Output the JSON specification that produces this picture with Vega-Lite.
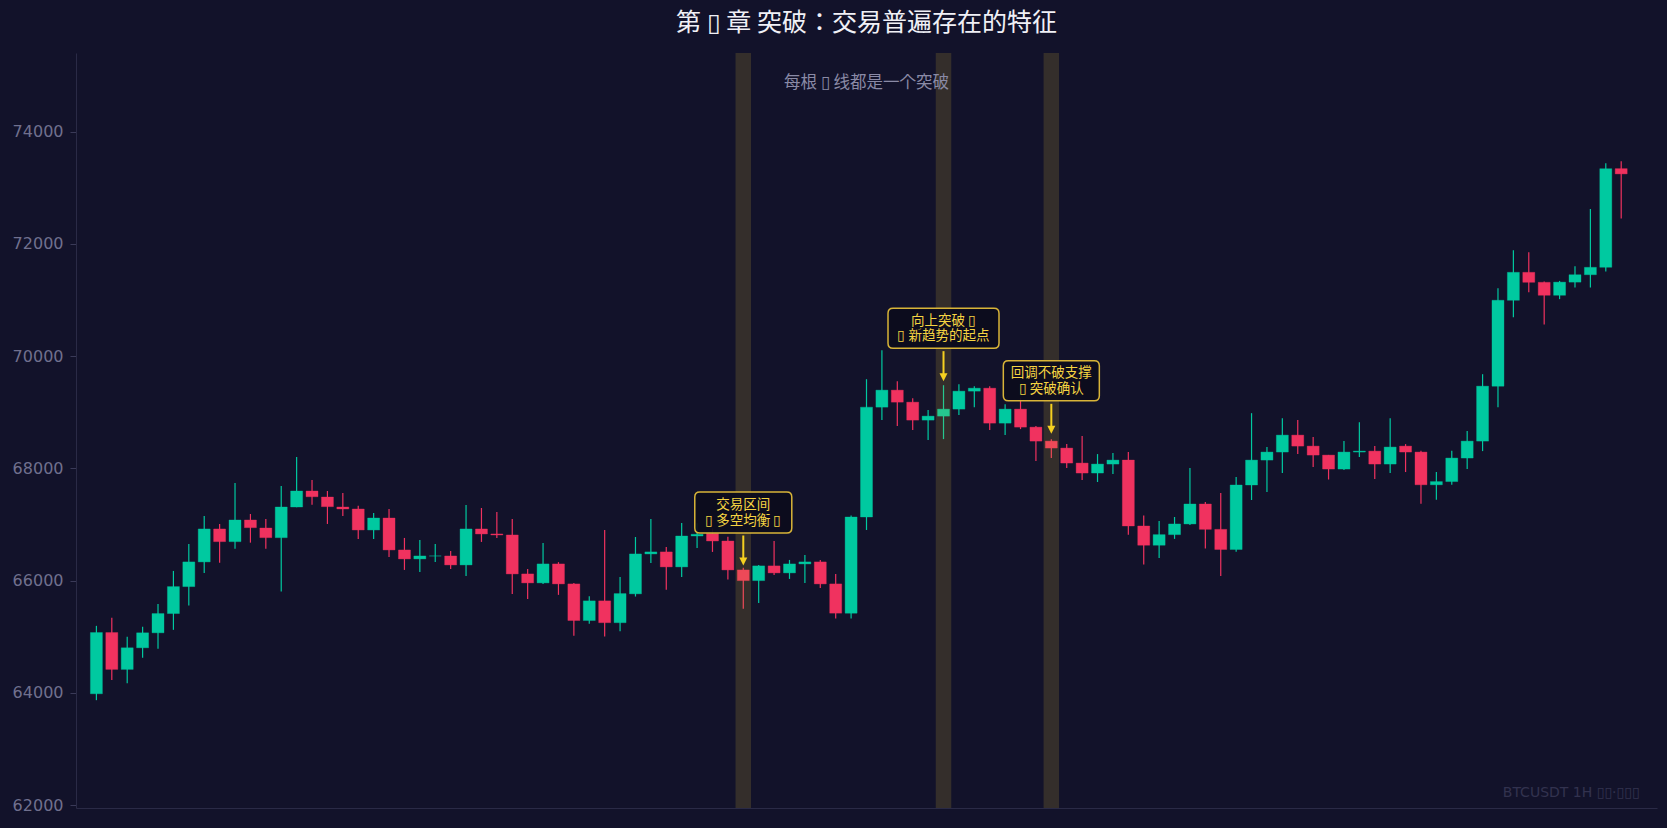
{
  "$schema": "https://vega.github.io/schema/vega-lite/v6.json",
  "width": 1581,
  "height": 755,
  "autosize": {"type": "none"},
  "padding": {"left": 76, "top": 53, "right": 10, "bottom": 20},
  "background": "#12122a",
  "config": {
    "view": {"stroke": null},
    "axis": {"grid": false, "title": null}
  },
  "title": {
    "text": "第 ▯ 章 突破：交易普遍存在的特征",
    "font": "Noto Sans CJK JP",
    "fontSize": 25,
    "fontWeight": "normal",
    "color": "#f0f0f6",
    "anchor": "middle",
    "frame": "group",
    "baseline": "middle",
    "offset": 5
  },
  "datasets": {
    "candles": [
      {"i":0,"o":63985,"c":65076,"h":65195,"l":63871},
      {"i":1,"o":65076,"c":64419,"h":65337,"l":64230},
      {"i":2,"o":64419,"c":64804,"h":65000,"l":64173},
      {"i":3,"o":64804,"c":65071,"h":65177,"l":64626},
      {"i":4,"o":65071,"c":65414,"h":65586,"l":64786},
      {"i":5,"o":65414,"c":65894,"h":66173,"l":65124},
      {"i":6,"o":65894,"c":66334,"h":66654,"l":65556},
      {"i":7,"o":66334,"c":66921,"h":67152,"l":66138},
      {"i":8,"o":66921,"c":66695,"h":67010,"l":66321},
      {"i":9,"o":66695,"c":67081,"h":67739,"l":66570},
      {"i":10,"o":67081,"c":66944,"h":67188,"l":66677},
      {"i":11,"o":66938,"c":66766,"h":67099,"l":66570},
      {"i":12,"o":66766,"c":67312,"h":67686,"l":65805},
      {"i":13,"o":67312,"c":67597,"h":68202,"l":67306},
      {"i":14,"o":67597,"c":67495,"h":67792,"l":67353},
      {"i":15,"o":67490,"c":67318,"h":67597,"l":67010},
      {"i":16,"o":67312,"c":67277,"h":67561,"l":67152},
      {"i":17,"o":67277,"c":66903,"h":67335,"l":66743},
      {"i":18,"o":66903,"c":67116,"h":67205,"l":66743},
      {"i":19,"o":67116,"c":66547,"h":67277,"l":66423},
      {"i":20,"o":66547,"c":66387,"h":66761,"l":66191},
      {"i":21,"o":66387,"c":66440,"h":66725,"l":66156},
      {"i":22,"o":66440,"c":66440,"h":66654,"l":66334},
      {"i":23,"o":66440,"c":66280,"h":66529,"l":66209},
      {"i":24,"o":66280,"c":66921,"h":67348,"l":66085},
      {"i":25,"o":66921,"c":66832,"h":67294,"l":66690},
      {"i":26,"o":66832,"c":66814,"h":67223,"l":66761},
      {"i":27,"o":66814,"c":66120,"h":67099,"l":65764},
      {"i":28,"o":66120,"c":65960,"h":66209,"l":65675},
      {"i":29,"o":65960,"c":66298,"h":66672,"l":65942},
      {"i":30,"o":66298,"c":65942,"h":66330,"l":65747},
      {"i":31,"o":65942,"c":65290,"h":65960,"l":65020},
      {"i":32,"o":65290,"c":65640,"h":65723,"l":65232},
      {"i":33,"o":65640,"c":65251,"h":66903,"l":65005},
      {"i":34,"o":65251,"c":65770,"h":66067,"l":65100},
      {"i":35,"o":65765,"c":66476,"h":66778,"l":65717},
      {"i":36,"o":66476,"c":66512,"h":67099,"l":66316},
      {"i":37,"o":66512,"c":66245,"h":66601,"l":65836},
      {"i":38,"o":66245,"c":66796,"h":67028,"l":66067},
      {"i":39,"o":66796,"c":66826,"h":67022,"l":66583},
      {"i":40,"o":66844,"c":66707,"h":66933,"l":66512},
      {"i":41,"o":66707,"c":66191,"h":66782,"l":66019},
      {"i":42,"o":66191,"c":66001,"h":66230,"l":65498},
      {"i":43,"o":66001,"c":66263,"h":66280,"l":65604},
      {"i":44,"o":66263,"c":66138,"h":66707,"l":66102},
      {"i":45,"o":66138,"c":66298,"h":66369,"l":66031},
      {"i":46,"o":66298,"c":66334,"h":66458,"l":65960},
      {"i":47,"o":66334,"c":65942,"h":66369,"l":65871},
      {"i":48,"o":65942,"c":65421,"h":66120,"l":65326},
      {"i":49,"o":65421,"c":67134,"h":67160,"l":65326},
      {"i":50,"o":67134,"c":69091,"h":69589,"l":66903},
      {"i":51,"o":69091,"c":69394,"h":70105,"l":68860},
      {"i":52,"o":69394,"c":69180,"h":69554,"l":68753},
      {"i":53,"o":69180,"c":68860,"h":69251,"l":68682},
      {"i":54,"o":68860,"c":68931,"h":69038,"l":68504},
      {"i":55,"o":68931,"c":69056,"h":69482,"l":68522},
      {"i":56,"o":69056,"c":69376,"h":69500,"l":68949},
      {"i":57,"o":69376,"c":69429,"h":69465,"l":69091},
      {"i":58,"o":69429,"c":68806,"h":69465,"l":68682},
      {"i":59,"o":68806,"c":69056,"h":69144,"l":68593},
      {"i":60,"o":69056,"c":68735,"h":69251,"l":68700},
      {"i":61,"o":68735,"c":68486,"h":68753,"l":68131},
      {"i":62,"o":68486,"c":68362,"h":68521,"l":68184},
      {"i":63,"o":68362,"c":68095,"h":68433,"l":68006},
      {"i":64,"o":68095,"c":67917,"h":68575,"l":67792},
      {"i":65,"o":67917,"c":68077,"h":68255,"l":67757},
      {"i":66,"o":68077,"c":68148,"h":68273,"l":67899},
      {"i":67,"o":68148,"c":66974,"h":68291,"l":66820},
      {"i":68,"o":66974,"c":66631,"h":67160,"l":66290},
      {"i":69,"o":66631,"c":66820,"h":67065,"l":66404},
      {"i":70,"o":66820,"c":67010,"h":67134,"l":66744},
      {"i":71,"o":67010,"c":67366,"h":68006,"l":66992},
      {"i":72,"o":67366,"c":66914,"h":67402,"l":66574},
      {"i":73,"o":66914,"c":66555,"h":67561,"l":66082},
      {"i":74,"o":66555,"c":67704,"h":67846,"l":66517},
      {"i":75,"o":67704,"c":68148,"h":68984,"l":67437},
      {"i":76,"o":68148,"c":68291,"h":68380,"l":67579},
      {"i":77,"o":68291,"c":68593,"h":68895,"l":67917},
      {"i":78,"o":68593,"c":68397,"h":68860,"l":68255},
      {"i":79,"o":68397,"c":68237,"h":68557,"l":68024},
      {"i":80,"o":68237,"c":67988,"h":68240,"l":67802},
      {"i":81,"o":67988,"c":68291,"h":68486,"l":67970},
      {"i":82,"o":68291,"c":68308,"h":68824,"l":68201},
      {"i":83,"o":68308,"c":68077,"h":68397,"l":67810},
      {"i":84,"o":68077,"c":68380,"h":68895,"l":67917},
      {"i":85,"o":68397,"c":68291,"h":68433,"l":67935},
      {"i":86,"o":68291,"c":67708,"h":68313,"l":67368},
      {"i":87,"o":67708,"c":67765,"h":67935,"l":67443},
      {"i":88,"o":67765,"c":68184,"h":68313,"l":67708},
      {"i":89,"o":68184,"c":68486,"h":68664,"l":67988},
      {"i":90,"o":68486,"c":69465,"h":69678,"l":68308},
      {"i":91,"o":69465,"c":70995,"h":71208,"l":69091},
      {"i":92,"o":70995,"c":71493,"h":71884,"l":70692},
      {"i":93,"o":71493,"c":71315,"h":71849,"l":71137},
      {"i":94,"o":71315,"c":71084,"h":71330,"l":70562},
      {"i":95,"o":71084,"c":71318,"h":71340,"l":71015},
      {"i":96,"o":71318,"c":71450,"h":71601,"l":71223},
      {"i":97,"o":71450,"c":71582,"h":72622,"l":71223},
      {"i":98,"o":71582,"c":73340,"h":73435,"l":71507},
      {"i":99,"o":73340,"c":73246,"h":73472,"l":72452}
    ],
    "notes": [
      {"i":42,"tip":66270,"label":["交易区间","▯ 多空均衡 ▯"]},
      {"i":55,"tip":69554,"label":["向上突破 ▯","▯ 新趋势的起点"]},
      {"i":62,"tip":68616,"label":["回调不破支撑","▯ 突破确认"]}
    ],
    "header": [
      {"subtitle":"每根 ▯ 线都是一个突破","mark":"BTCUSDT 1H  ▯▯·▯▯▯"}
    ]
  },
  "layer": [
    {
      "data": {"name": "candles"},
      "mark": {"type": "rule", "strokeWidth": 1.2},
      "encoding": {
        "x": {"field": "i", "type": "quantitative", "scale": {"domain": [-1, 101], "nice": false, "zero": false},
              "axis": {"labels": false, "ticks": false, "domainColor": "#2a2a46", "title": null}},
        "y": {"field": "l", "type": "quantitative", "scale": {"domain": [61950, 75400], "nice": false, "zero": false},
              "axis": {"values": [62000, 64000, 66000, 68000, 70000, 72000, 74000], "format": "d", "title": null,
                       "labelFont": "DejaVu Sans", "labelFontSize": 16, "labelColor": "#70708e",
                       "tickColor": "#3a3a58", "tickSize": 6, "domainColor": "#2a2a46", "labelPadding": 7}},
        "y2": {"field": "h"},
        "color": {"condition": {"test": "datum.c >= datum.o", "value": "#00c9a0"}, "value": "#f0325f"}
      }
    },
    {
      "data": {"name": "candles"},
      "mark": {"type": "bar", "width": 12, "strokeWidth": 1, "strokeOpacity": 0.35},
      "encoding": {
        "x": {"field": "i", "type": "quantitative"},
        "y": {"field": "o", "type": "quantitative"},
        "y2": {"field": "c"},
        "color": {"condition": {"test": "datum.c >= datum.o", "value": "#00c9a0"}, "value": "#f0325f"},
        "stroke": {"condition": {"test": "datum.c >= datum.o", "value": "#00c9a0"}, "value": "#f0325f"}
      }
    },
    {
      "data": {"name": "notes"},
      "mark": {"type": "rect", "color": "#e0bd36", "opacity": 0.17, "xOffset": -7.75, "x2Offset": 7.75},
      "encoding": {
        "x": {"field": "i", "type": "quantitative"},
        "x2": {"field": "i"}
      }
    },
    {
      "data": {"name": "notes"},
      "mark": {"type": "rule", "color": "#f5d020", "strokeWidth": 2, "yOffset": -7, "y2Offset": -30},
      "encoding": {
        "x": {"field": "i", "type": "quantitative"},
        "y": {"field": "tip", "type": "quantitative"},
        "y2": {"field": "tip"}
      }
    },
    {
      "data": {"name": "notes"},
      "mark": {"type": "point", "shape": "M-1,-1L1,-1L0,1Z", "size": 64, "filled": true, "color": "#f5d020", "opacity": 1, "yOffset": -4},
      "encoding": {
        "x": {"field": "i", "type": "quantitative"},
        "y": {"field": "tip", "type": "quantitative"}
      }
    },
    {
      "data": {"name": "notes"},
      "mark": {"type": "point", "size": 12321, "filled": true, "fill": "#0c0c1c", "fillOpacity": 0.92, "stroke": "#d8b438", "strokeWidth": 1.5, "strokeOpacity": 1, "opacity": 1, "yOffset": -53},
      "encoding": {
        "x": {"field": "i", "type": "quantitative"},
        "y": {"field": "tip", "type": "quantitative"},
        "shape": {"field": "i", "type": "nominal", "legend": null,
                  "scale": {"domain": [42, 55, 62], "range": [
                    "M-0.784,-0.369L0.784,-0.369Q0.874,-0.369 0.874,-0.279L0.874,0.279Q0.874,0.369 0.784,0.369L-0.784,0.369Q-0.874,0.369 -0.874,0.279L-0.874,-0.279Q-0.874,-0.369 -0.784,-0.369Z",
                    "M-0.91,-0.36L0.91,-0.36Q1,-0.36 1,-0.27L1,0.27Q1,0.36 0.91,0.36L-0.91,0.36Q-1,0.36 -1,0.27L-1,-0.27Q-1,-0.36 -0.91,-0.36Z",
                    "M-0.775,-0.36L0.775,-0.36Q0.865,-0.36 0.865,-0.27L0.865,0.27Q0.865,0.36 0.775,0.36L-0.775,0.36Q-0.865,0.36 -0.865,0.27L-0.865,-0.27Q-0.865,-0.36 -0.775,-0.36Z"
                  ]}}
      }
    },
    {
      "data": {"name": "notes"},
      "mark": {"type": "text", "font": "Noto Sans CJK JP", "fontSize": 13.5, "color": "#f5d442", "lineHeight": 15.5, "align": "center", "baseline": "middle", "yOffset": -60.5},
      "encoding": {
        "x": {"field": "i", "type": "quantitative"},
        "y": {"field": "tip", "type": "quantitative"},
        "text": {"field": "label"}
      }
    },
    {
      "data": {"name": "header"},
      "mark": {"type": "text", "font": "Noto Sans CJK JP", "fontSize": 16.5, "color": "#8a8aa6", "align": "center", "baseline": "middle"},
      "encoding": {
        "x": {"datum": 50},
        "y": {"datum": 74862},
        "text": {"field": "subtitle"}
      }
    },
    {
      "data": {"name": "header"},
      "mark": {"type": "text", "font": "DejaVu Sans, Noto Sans CJK JP", "fontSize": 14, "color": "#32324f", "align": "right", "baseline": "middle"},
      "encoding": {
        "x": {"datum": 100.2},
        "y": {"datum": 62220},
        "text": {"field": "mark"}
      }
    }
  ]
}
